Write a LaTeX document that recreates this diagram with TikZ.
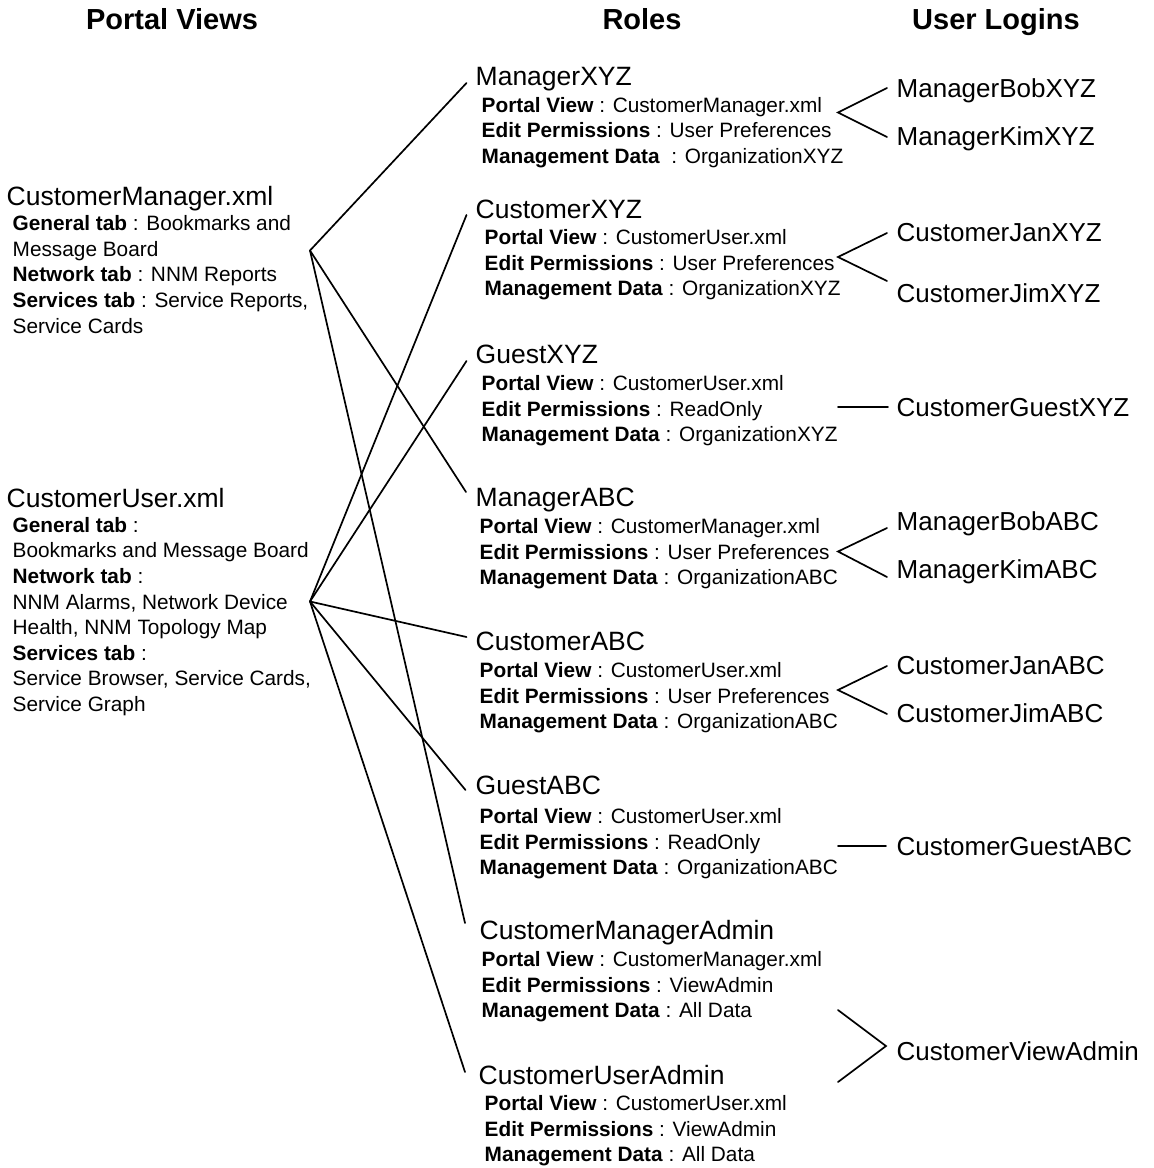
\documentclass[tikz,border=0pt]{standalone}
\usepackage{fontspec}
\setmainfont{Liberation Sans}
\newcommand\field[2]{\textbf{#1} : #2}
\begin{document}
\begin{tikzpicture}[x=1pt,y=-1pt,
  headtext/.style={font=\fontsize{29}{34}\selectfont\bfseries, inner sep=0, anchor=base},
  nametext/.style={font=\fontsize{26.5}{31}\selectfont, inner sep=0, anchor=base west},
  % multi-line blocks are placed by the baseline of their last line
  detailtext/.style={font=\fontsize{20.8}{25.6}\selectfont, inner sep=0, anchor=base west, align=left},
  logintext/.style={font=\fontsize{26}{31}\selectfont, inner sep=0, anchor=base west},
  linkline/.style={line width=1.7pt, line cap=round, line join=miter}]
\useasboundingbox[fill=white] (0,0) rectangle (1154,1168);

% column headings
\node[headtext] (hviews) at (172,29.5) {Portal Views};
\node[headtext] (hroles) at (642,29.5) {Roles};
\node[headtext] (hlogins) at (996,29.5) {User Logins};

% portal views
\node[nametext] (cm) at (6.5,205) {CustomerManager.xml};
\node[detailtext] (cmd) at (12.5,333) {\field{General tab}{Bookmarks and}\\
  Message Board\\
  \field{Network tab}{NNM Reports}\\
  \field{Services tab}{Service Reports,}\\
  Service Cards};
\node[nametext] (cu) at (6.5,507) {CustomerUser.xml};
\node[detailtext] (cud) at (12.5,711.5) {\textbf{General tab} :\\
  Bookmarks and Message Board\\
  \textbf{Network tab} :\\
  NNM Alarms, Network Device\\
  Health, NNM Topology Map\\
  \textbf{Services tab} :\\
  Service Browser, Service Cards,\\
  Service Graph};

% roles
\node[nametext] (mxyz) at (475.5,85.5) {ManagerXYZ};
\node[detailtext] (mxyzd) at (481.5,163.2) {\field{Portal View}{CustomerManager.xml}\\
  \field{Edit Permissions}{User Preferences}\\
  \textbf{Management Data}\ \ : OrganizationXYZ};
\node[nametext] (cxyz) at (475.5,218.5) {CustomerXYZ};
\node[detailtext] (cxyzd) at (484.5,295.7) {\field{Portal View}{CustomerUser.xml}\\
  \field{Edit Permissions}{User Preferences}\\
  \field{Management Data}{OrganizationXYZ}};
\node[nametext] (gxyz) at (475.5,363) {GuestXYZ};
\node[detailtext] (gxyzd) at (481.5,441.7) {\field{Portal View}{CustomerUser.xml}\\
  \field{Edit Permissions}{ReadOnly}\\
  \field{Management Data}{OrganizationXYZ}};
\node[nametext] (mabc) at (475.5,506) {ManagerABC};
\node[detailtext] (mabcd) at (479.5,584.7) {\field{Portal View}{CustomerManager.xml}\\
  \field{Edit Permissions}{User Preferences}\\
  \field{Management Data}{OrganizationABC}};
\node[nametext] (cabc) at (475.5,650) {CustomerABC};
\node[detailtext] (cabcd) at (479.5,728.7) {\field{Portal View}{CustomerUser.xml}\\
  \field{Edit Permissions}{User Preferences}\\
  \field{Management Data}{OrganizationABC}};
\node[nametext] (gabc) at (475.5,794) {GuestABC};
\node[detailtext] (gabcd) at (479.5,874.7) {\field{Portal View}{CustomerUser.xml}\\
  \field{Edit Permissions}{ReadOnly}\\
  \field{Management Data}{OrganizationABC}};
\node[nametext] (cma) at (479.5,939) {CustomerManagerAdmin};
\node[detailtext] (cmad) at (481.5,1017.7) {\field{Portal View}{CustomerManager.xml}\\
  \field{Edit Permissions}{ViewAdmin}\\
  \field{Management Data}{All Data}};
\node[nametext] (cua) at (478.5,1084) {CustomerUserAdmin};
\node[detailtext] (cuad) at (484.5,1161.7) {\field{Portal View}{CustomerUser.xml}\\
  \field{Edit Permissions}{ViewAdmin}\\
  \field{Management Data}{All Data}};

% user logins
\node[logintext] (bobxyz) at (896.5,97) {ManagerBobXYZ};
\node[logintext] (kimxyz) at (896.5,145) {ManagerKimXYZ};
\node[logintext] (janxyz) at (896.5,241) {CustomerJanXYZ};
\node[logintext] (jimxyz) at (896.5,302) {CustomerJimXYZ};
\node[logintext] (gstxyz) at (896.5,416) {CustomerGuestXYZ};
\node[logintext] (bobabc) at (896.5,530) {ManagerBobABC};
\node[logintext] (kimabc) at (896.5,578) {ManagerKimABC};
\node[logintext] (janabc) at (896.5,674) {CustomerJanABC};
\node[logintext] (jimabc) at (896.5,722) {CustomerJimABC};
\node[logintext] (gstabc) at (896.5,855) {CustomerGuestABC};
\node[logintext] (cva) at (896.5,1060) {CustomerViewAdmin};

% connection points
\coordinate (cm-out) at (310,250.5);
\coordinate (cu-out) at (310,601.5);
\coordinate (mxyz-in) at (466.5,83);
\coordinate (cxyz-in) at (466.5,215);
\coordinate (gxyz-in) at (466.5,361);
\coordinate (mabc-in) at (466,492);
\coordinate (cabc-in) at (466.5,637);
\coordinate (gabc-in) at (465.5,790);
\coordinate (cma-in) at (465,923);
\coordinate (cua-in) at (465,1072);

\coordinate (mxyz-out) at (838,112.5);
\coordinate (cxyz-out) at (838,257);
\coordinate (gxyz-out) at (838,407);
\coordinate (mabc-out) at (838,551.5);
\coordinate (cabc-out) at (838,690);
\coordinate (gabc-out) at (838,846);
\coordinate (cma-out) at (838,1010);
\coordinate (cua-out) at (838,1082);
\coordinate (cva-in) at (886,1046);

\coordinate (bobxyz-in) at (887,88);
\coordinate (kimxyz-in) at (887,137);
\coordinate (janxyz-in) at (887,233);
\coordinate (jimxyz-in) at (887,281);
\coordinate (gstxyz-in) at (888,407);
\coordinate (bobabc-in) at (887,528);
\coordinate (kimabc-in) at (887,577);
\coordinate (janabc-in) at (887,666);
\coordinate (jimabc-in) at (887,714);
\coordinate (gstabc-in) at (886,846);

% portal view to role
\draw[linkline] (cm-out) -- (mxyz-in);
\draw[linkline] (cm-out) -- (mabc-in);
\draw[linkline] (cm-out) -- (cma-in);
\draw[linkline] (cu-out) -- (cxyz-in);
\draw[linkline] (cu-out) -- (gxyz-in);
\draw[linkline] (cu-out) -- (cabc-in);
\draw[linkline] (cu-out) -- (gabc-in);
\draw[linkline] (cu-out) -- (cua-in);

% role to user login
\draw[linkline] (bobxyz-in) -- (mxyz-out) -- (kimxyz-in);
\draw[linkline] (janxyz-in) -- (cxyz-out) -- (jimxyz-in);
\draw[linkline] (gxyz-out) -- (gstxyz-in);
\draw[linkline] (bobabc-in) -- (mabc-out) -- (kimabc-in);
\draw[linkline] (janabc-in) -- (cabc-out) -- (jimabc-in);
\draw[linkline] (gabc-out) -- (gstabc-in);
\draw[linkline] (cma-out) -- (cva-in) -- (cua-out);
\end{tikzpicture}
\end{document}
